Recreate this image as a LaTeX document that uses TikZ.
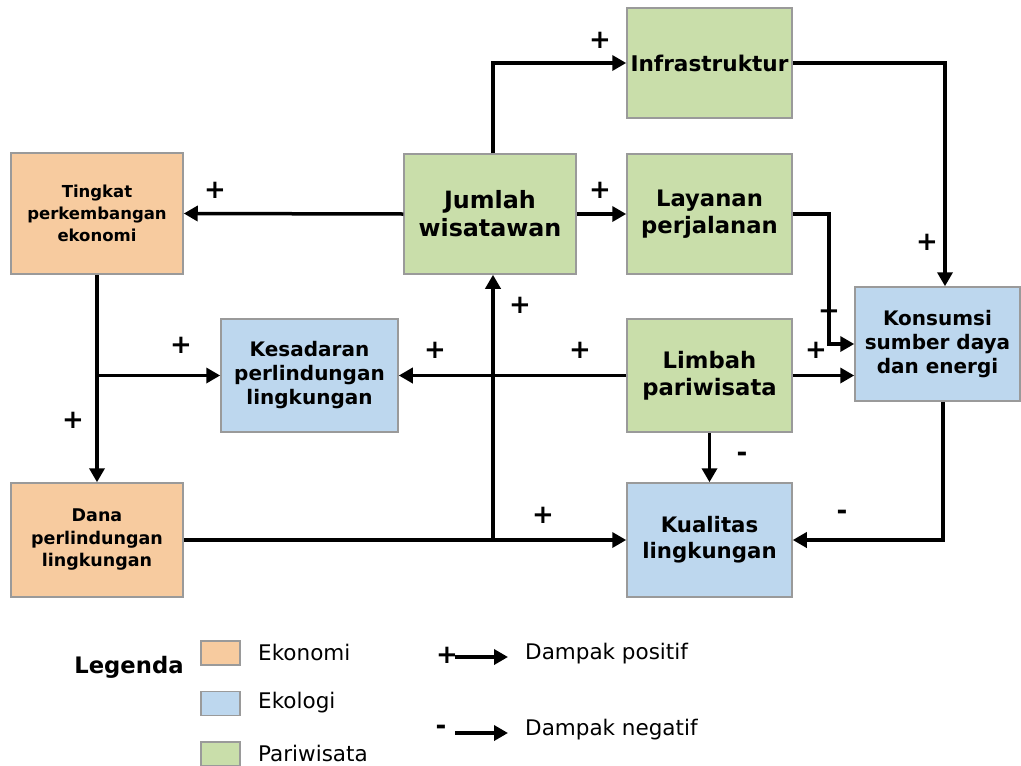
\documentclass[tikz,border=0pt]{standalone}
\usepackage{fontspec}
\setmainfont{DejaVu Sans}
\usetikzlibrary{arrows.meta}
\definecolor{eko}{HTML}{F7CB9F}
\definecolor{eco}{HTML}{BDD7EE}
\definecolor{par}{HTML}{C9DEAA}
\definecolor{bord}{HTML}{9A9A9A}
\tikzset{
  box/.style={draw=bord, line width=1.5pt, align=center, inner sep=0pt, font=\bfseries},
  conn/.style={line width=3.5pt, -{Triangle[length=14pt,width=15pt]}},
  sgn/.style={font=\fontsize{26}{26}\selectfont\bfseries, inner sep=0pt},
  legbox/.style={draw=bord, line width=1.5pt, minimum width=39pt, minimum height=24pt, inner sep=0pt},
  legtxt/.style={font=\fontsize{21.5}{24}\selectfont, anchor=west, inner sep=0pt},
}
\begin{document}
\begin{tikzpicture}[x=1pt,y=-1pt]
\useasboundingbox (0,0) rectangle (1021,766);
% nodes
\node[box, fill=par, minimum width=172pt, minimum height=120pt, font=\fontsize{23.8}{28}\selectfont\bfseries] (jumlah) at (490,214) {Jumlah\\wisatawan};
\node[box, fill=par, minimum width=165pt, minimum height=120pt, font=\fontsize{22.7}{27}\selectfont\bfseries] (layanan) at (709.5,214) {Layanan\\perjalanan};
\node[box, fill=par, minimum width=165pt, minimum height=110pt, font=\fontsize{21.6}{25}\selectfont\bfseries] (infra) at (709.5,63) {Infrastruktur};
\node[box, fill=eko, minimum width=172pt, minimum height=121pt, font=\fontsize{16.5}{22}\selectfont\bfseries] (tingkat) at (97,213.5) {Tingkat\\perkembangan\\ekonomi};
\node[box, fill=eco, minimum width=177pt, minimum height=113pt, font=\fontsize{20}{24}\selectfont\bfseries] (kesadaran) at (309.5,375.5) {Kesadaran\\perlindungan\\lingkungan};
\node[box, fill=par, minimum width=165pt, minimum height=113pt, font=\fontsize{22.7}{27}\selectfont\bfseries] (limbah) at (709.5,375.5) {Limbah\\pariwisata};
\node[box, fill=eco, minimum width=165pt, minimum height=114pt, font=\fontsize{20}{24}\selectfont\bfseries] (konsumsi) at (937.5,344) {Konsumsi\\sumber daya\\dan energi};
\node[box, fill=eko, minimum width=172pt, minimum height=114pt, font=\fontsize{17.5}{22.5}\selectfont\bfseries] (dana) at (97,540) {Dana\\perlindungan\\lingkungan};
\node[box, fill=eco, minimum width=165pt, minimum height=114pt, font=\fontsize{21.3}{26}\selectfont\bfseries] (kualitas) at (709.5,540) {Kualitas\\lingkungan};
% helper coordinates
\coordinate (vl) at (829,0);
% connectors
\draw[conn] ([xshift=3pt]jumlah.north) |- (infra.west);
\draw[conn] (jumlah.east) -- (layanan.west);
\draw[conn] (jumlah.west) -- (tingkat.east);
\draw[conn] (infra.east) -| ([xshift=7.5pt]konsumsi.north);
\draw[conn] (layanan.east) -| (vl |- konsumsi.west) -- (konsumsi.west);
\draw[conn] (limbah.east) -- (limbah.east -| konsumsi.west);
\draw[conn] (limbah.west) -- (kesadaran.east);
\draw[conn] (tingkat.south) -- (dana.north);
\draw[conn] (tingkat.south |- kesadaran.west) -- (kesadaran.west);
\draw[conn] (dana.east) -- (kualitas.west);
\draw[conn] ([xshift=3pt]jumlah.south |- dana.east) -- ([xshift=3pt]jumlah.south);
\draw[conn] (limbah.south) -- (kualitas.north);
\draw[conn] ([xshift=5.5pt]konsumsi.south) |- (kualitas.east);
% signs
\node[sgn] (s1) at (600,40) {+};
\node[sgn] (s2) at (600,190) {+};
\node[sgn] (s3) at (215,190) {+};
\node[sgn] (s4) at (927,242) {+};
\node[sgn] (s5) at (829,311) {+};
\node[sgn] (s6) at (816,350) {+};
\node[sgn] (s7) at (580,350) {+};
\node[sgn] (s8) at (435,350) {+};
\node[sgn] (s9) at (181,345) {+};
\node[sgn] (s10) at (73,420) {+};
\node[sgn] (s11) at (543,515) {+};
\node[sgn] (s12) at (520,305) {+};
\node[sgn] (m1) at (742,457) {-};
\node[sgn] (m2) at (842,515) {-};
% legend
\node[font=\fontsize{22.7}{24}\selectfont\bfseries, inner sep=0pt] (leg) at (129,667) {Legenda};
\node[legbox, fill=eko] (lb1) at (220.5,653) {};
\node[legbox, fill=eco] (lb2) at (220.5,703.5) {};
\node[legbox, fill=par] (lb3) at (220.5,754) {};
\node[legtxt] (lt1) at (258,652) {Ekonomi};
\node[legtxt] (lt2) at (258,703) {Ekologi};
\node[legtxt] (lt3) at (258,753) {Pariwisata};
\coordinate (la1) at (455,657);
\coordinate (la2) at (508,657);
\coordinate (lb1s) at (455,733);
\coordinate (lb2s) at (508,733);
\draw[conn] (la1) -- (la2);
\draw[conn] (lb1s) -- (lb2s);
\node[sgn] (lps) at (447,655) {+};
\node[sgn] (lms) at (441,730) {-};
\node[legtxt] (lt4) at (525,654) {Dampak positif};
\node[legtxt] (lt5) at (525,730) {Dampak negatif};
\end{tikzpicture}
\end{document}
